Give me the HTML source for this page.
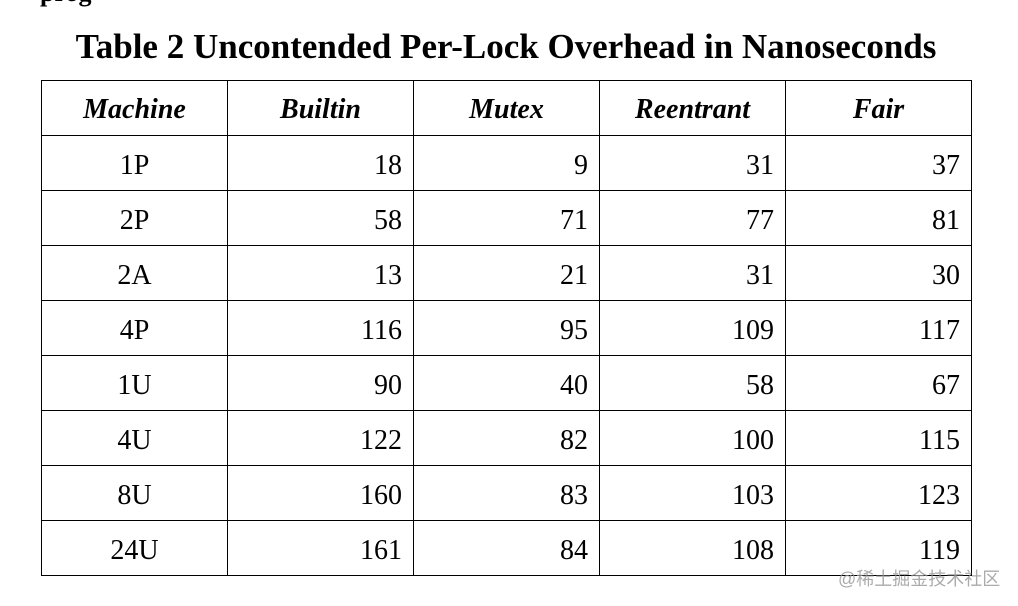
<!DOCTYPE html>
<html><head><meta charset="utf-8"><style>
html,body{margin:0;padding:0;background:#fff;width:1018px;height:606px;overflow:hidden;position:relative;font-family:"Liberation Serif",serif;color:#000}
.title{position:absolute;left:0;width:1012px;top:26px;text-align:center;font-weight:bold;font-size:35px;line-height:42px}
.top{position:absolute;left:40px;top:-22px;font-size:26px;font-weight:bold}
table{position:absolute;left:41px;top:80px;border-collapse:collapse}
td,th{border:1.3px solid #000;width:186px;height:55px;padding:0;font-size:28px;box-sizing:border-box}
th{font-style:italic;font-weight:bold;text-align:center;padding-top:3px}
td{text-align:right;padding-right:11px;padding-top:5px}
td.c{text-align:center;padding-right:0}
.wm{position:absolute;left:838px;top:565px;font-size:18px;color:rgba(150,150,150,0.8);font-family:"Liberation Sans","Noto Sans CJK SC",sans-serif}
</style></head><body>
<div class="top">prog</div>
<div class="title">Table 2 Uncontended Per-Lock Overhead in Nanoseconds</div>
<table>
<tr><th>Machine</th><th>Builtin</th><th>Mutex</th><th>Reentrant</th><th>Fair</th></tr>
<tr><td class="c">1P</td><td>18</td><td>9</td><td>31</td><td>37</td></tr>
<tr><td class="c">2P</td><td>58</td><td>71</td><td>77</td><td>81</td></tr>
<tr><td class="c">2A</td><td>13</td><td>21</td><td>31</td><td>30</td></tr>
<tr><td class="c">4P</td><td>116</td><td>95</td><td>109</td><td>117</td></tr>
<tr><td class="c">1U</td><td>90</td><td>40</td><td>58</td><td>67</td></tr>
<tr><td class="c">4U</td><td>122</td><td>82</td><td>100</td><td>115</td></tr>
<tr><td class="c">8U</td><td>160</td><td>83</td><td>103</td><td>123</td></tr>
<tr><td class="c">24U</td><td>161</td><td>84</td><td>108</td><td>119</td></tr>
</table>
<div class="wm">@稀土掘金技术社区</div>
</body></html>
